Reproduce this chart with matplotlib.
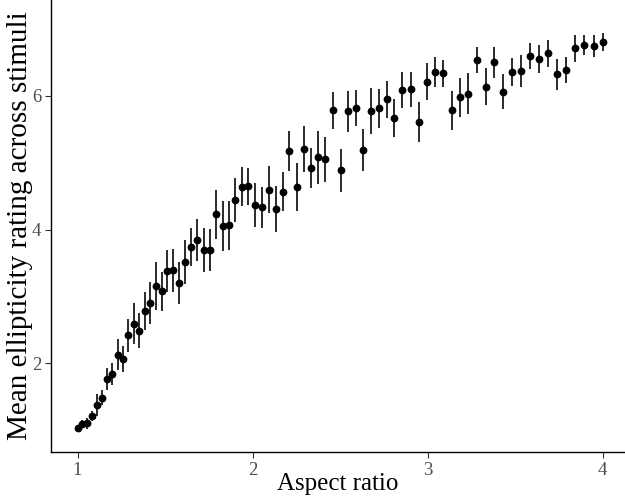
import matplotlib
matplotlib.use("Agg")
import matplotlib.pyplot as plt

aspect_ratio = [1.000, 1.027, 1.054, 1.083, 1.111, 1.140, 1.169, 1.199, 1.230, 1.258,
                1.290, 1.321, 1.351, 1.384, 1.416, 1.449, 1.481, 1.513, 1.547, 1.582,
                1.616, 1.649, 1.685, 1.720, 1.755, 1.791, 1.829, 1.866, 1.902, 1.940,
                1.977, 2.016, 2.054, 2.093, 2.133, 2.173, 2.211, 2.253, 2.293, 2.334,
                2.376, 2.417, 2.461, 2.504, 2.546, 2.590, 2.633, 2.676, 2.722, 2.766,
                2.811, 2.857, 2.904, 2.950, 2.996, 3.044, 3.090, 3.138, 3.186, 3.234,
                3.283, 3.333, 3.381, 3.431, 3.481, 3.533, 3.584, 3.635, 3.686, 3.739,
                3.791, 3.843, 3.897, 3.950, 4.000]

mean_rating = [1.022, 1.082, 1.097, 1.210, 1.366, 1.480, 1.760, 1.835, 2.124, 2.060,
               2.415, 2.589, 2.484, 2.779, 2.903, 3.158, 3.074, 3.378, 3.389, 3.203,
               3.513, 3.738, 3.843, 3.693, 3.693, 4.225, 4.048, 4.063, 4.442, 4.641,
               4.647, 4.367, 4.334, 4.599, 4.307, 4.562, 5.173, 4.632, 5.209, 4.917,
               5.082, 5.049, 5.783, 4.887, 5.772, 5.825, 5.191, 5.775, 5.813, 5.951,
               5.670, 6.090, 6.100, 5.606, 6.214, 6.360, 6.340, 5.786, 5.978, 6.037,
               6.542, 6.139, 6.505, 6.064, 6.358, 6.375, 6.599, 6.553, 6.640, 6.325,
               6.390, 6.715, 6.763, 6.752, 6.813]

rating_err = [0.022, 0.057, 0.079, 0.075, 0.165, 0.112, 0.162, 0.168, 0.232, 0.199,
              0.250, 0.310, 0.262, 0.285, 0.315, 0.360, 0.292, 0.315, 0.325, 0.315,
              0.330, 0.285, 0.312, 0.334, 0.319, 0.370, 0.375, 0.367, 0.337, 0.295,
              0.274, 0.334, 0.307, 0.345, 0.342, 0.292, 0.304, 0.357, 0.349, 0.300,
              0.400, 0.337, 0.282, 0.322, 0.307, 0.267, 0.319, 0.342, 0.297, 0.274,
              0.282, 0.273, 0.267, 0.297, 0.274, 0.229, 0.199, 0.292, 0.288, 0.304,
              0.195, 0.274, 0.232, 0.265, 0.207, 0.243, 0.199, 0.213, 0.199, 0.232,
              0.199, 0.199, 0.154, 0.162, 0.135]

x_ticks = [1, 2, 3, 4]
y_ticks = [2, 4, 6]
x_label = "Aspect ratio"
y_label = "Mean ellipticity rating across stimuli"

plt.rcParams['font.family'] = ['Liberation Serif', 'DejaVu Serif']

W, H = 625, 497
left_px, bottom_px = 51, 452
fig = plt.figure(figsize=(W / 100, H / 100), dpi=100)
ax = fig.add_axes([left_px / W, 1 - bottom_px / H, (W - left_px) / W, bottom_px / H])

ax.errorbar(aspect_ratio, mean_rating, yerr=rating_err, fmt='o', color='black',
            ecolor='#1a1a1a', elinewidth=1.3, markersize=4.6, capsize=0)

# calibration: x=1 at 77.5px, 175 px/unit ; y=2 at 363px, 66.75 px/unit
ax.set_xlim(1 + (left_px - 77.5) / 175, 1 + (W - 77.5) / 175)
ax.set_ylim(2 + (363 - bottom_px) / 66.75, 2 + 363 / 66.75)
ax.set_xticks(x_ticks)
ax.set_yticks(y_ticks)
ax.set_xticklabels([str(t) for t in x_ticks])
ax.set_yticklabels([str(t) for t in y_ticks])

for side in ['top', 'right']:
    ax.spines[side].set_visible(False)
for side in ['left', 'bottom']:
    ax.spines[side].set_linewidth(1.0)
    ax.spines[side].set_color('black')

ax.tick_params(axis='both', which='major', length=4, width=0.8, color='#333333',
               labelsize=13.5, labelcolor='#4d4d4d', pad=3)

ax.set_xlabel(x_label, fontsize=18)
ax.set_ylabel(y_label, fontsize=21)
ax.xaxis.set_label_coords(0.5, -(484 - bottom_px) / bottom_px)
ax.xaxis.label.set_va('center')
ax.yaxis.set_label_coords(-(left_px - 20) / (W - left_px), 0.5)
ax.yaxis.label.set_va('center')

fig.savefig("out.png", dpi=100)
